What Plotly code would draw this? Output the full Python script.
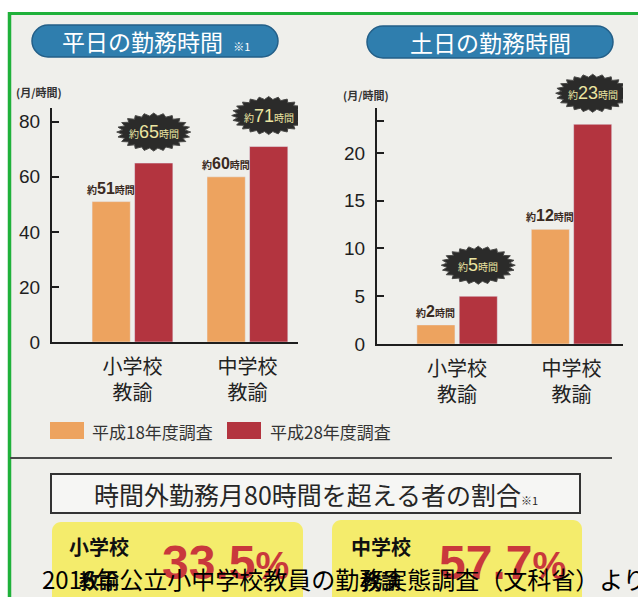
import math
import plotly.graph_objects as go

W, H = 638, 597

# ---------------- data ----------------
categories = ["小学校<br>教諭", "中学校<br>教諭"]
series_names = ["平成18年度調査", "平成28年度調査"]
weekday_h18 = [51, 60]
weekday_h28 = [65, 71]
weekend_h18 = [2, 12]
weekend_h28 = [5, 23]
weekday_ticks = [0, 20, 40, 60, 80]
weekend_ticks = [0, 5, 10, 15, 20]
over80_names = ["小学校", "中学校"]
over80_values = [33.5, 57.7]
titles = ["平日の勤務時間", "土日の勤務時間"]
unit_label = "(月/時間)"
box_title = "時間外勤務月80時間を超える者の割合"
caption = "2016年公立小中学校教員の勤務実態調査（文科省）より"

WEEKDAY_MAX = 85
WEEKEND_MAX = 24.7

ORANGE = "#eda35f"
RED = "#b3343f"
BG = "#efefeb"
CJK = "Noto Sans CJK JP"
LAT = "Liberation Sans, Noto Sans CJK JP"


def px(x):
    return x / W


def py(y):
    return 1 - y / H


def rrect_path(x0, y0, x1, y1, r):
    k = 0.5523 * r
    pts = [
        ("M", [(x0 + r, y0)]),
        ("L", [(x1 - r, y0)]),
        ("C", [(x1 - r + k, y0), (x1, y0 + r - k), (x1, y0 + r)]),
        ("L", [(x1, y1 - r)]),
        ("C", [(x1, y1 - r + k), (x1 - r + k, y1), (x1 - r, y1)]),
        ("L", [(x0 + r, y1)]),
        ("C", [(x0 + r - k, y1), (x0, y1 - r + k), (x0, y1 - r)]),
        ("L", [(x0, y0 + r)]),
        ("C", [(x0, y0 + r - k), (x0 + r - k, y0), (x0 + r, y0)]),
    ]
    s = ""
    for cmd, ps in pts:
        s += cmd + " ".join(f"{px(a):.5f},{py(b):.5f}" for a, b in ps)
    return s + "Z"


def burst_path(cy=31, rx=37, ry=19, n=24, inner=0.85):
    segs = []
    for j in range(2 * n):
        a = math.pi * j / n
        f = 1.0 if j % 2 == 0 else inner
        segs.append(f"{rx * f * math.cos(a):.2f},{cy + ry * f * math.sin(a):.2f}")
    return "M" + " L".join(segs) + " Z"


fig = go.Figure()

panels = [
    ("x", "y", weekday_h18, weekday_h28, WEEKDAY_MAX),
    ("x2", "y2", weekend_h18, weekend_h28, WEEKEND_MAX),
]
for xa, ya, old, new, _ in panels:
    fig.add_trace(go.Bar(x=[0, 1], y=old, name=series_names[0], marker_color=ORANGE,
                         xaxis=xa, yaxis=ya, showlegend=False))
    fig.add_trace(go.Bar(x=[0, 1], y=new, name=series_names[1], marker_color=RED,
                         xaxis=xa, yaxis=ya, showlegend=False))

shapes = []
annotations = []

# frame: white outside, green border
shapes.append(dict(type="rect", xref="paper", yref="paper", x0=0, x1=1, y0=py(12), y1=1,
                   fillcolor="white", line_width=0, layer="below"))
shapes.append(dict(type="rect", xref="paper", yref="paper", x0=0, x1=px(8), y0=0, y1=1,
                   fillcolor="white", line_width=0, layer="below"))
shapes.append(dict(type="line", xref="paper", yref="paper", x0=px(8), x1=1, y0=py(13.5), y1=py(13.5),
                   line=dict(color="#1fb13a", width=3)))
shapes.append(dict(type="line", xref="paper", yref="paper", x0=px(9.5), x1=px(9.5), y0=0, y1=py(12),
                   line=dict(color="#1fb13a", width=3.5)))

# title pills
pills = [(32, 25, 278, 57, 156), (367, 26, 613, 58, 490)]
for i, (x0, y0, x1, y1, cx) in enumerate(pills):
    shapes.append(dict(type="path", xref="paper", yref="paper",
                       path=rrect_path(x0, y0, x1, y1, (y1 - y0) / 2),
                       fillcolor="#2f7eae", line=dict(color="#235f88", width=1.5), layer="below"))
    txt = titles[i] + ("  <span style='font-size:11px'>※1</span>" if i == 0 else "")
    annotations.append(dict(xref="paper", yref="paper", x=px(cx), y=py((y0 + y1) / 2),
                            text=txt, showarrow=False, xanchor="center", yanchor="middle",
                            font=dict(family=CJK, size=23, color="white")))

# unit labels
for ux, uy in [(39, 92), (366, 95)]:
    annotations.append(dict(xref="paper", yref="paper", x=px(ux), y=py(uy), text="<b>" + unit_label + "</b>",
                            showarrow=False, xanchor="center", yanchor="middle",
                            font=dict(family=CJK, size=11, color="#333")))

# value labels & bursts
for xa, ya, old, new, ymax in panels:
    for i in range(2):
        annotations.append(dict(xref=xa, yref=ya, x=i - 0.185, y=old[i], yshift=3,
                                text=f"<b>約<span style='font-size:16px'>{old[i]}</span>時間</b>",
                                showarrow=False, xanchor="center", yanchor="bottom",
                                font=dict(family=LAT, size=10, color="#3a2a22")))
        shapes.append(dict(type="path", xref=xa, yref=ya + " domain", xsizemode="pixel", ysizemode="pixel",
                           xanchor=i + 0.185, yanchor=new[i] / ymax, path=burst_path(),
                           fillcolor="#2b2b2a", line=dict(color="#4a4a48", width=1)))
        annotations.append(dict(xref=xa, yref=ya, x=i + 0.185, y=new[i], yshift=31,
                                text=f"約<span style='font-size:18px'>{new[i]}</span>時間",
                                showarrow=False, xanchor="center", yanchor="middle",
                                font=dict(family=LAT, size=10, color="#ece5a2")))

# legend
for i, (sx, tx) in enumerate([(50, 90), (227, 268)]):
    shapes.append(dict(type="rect", xref="paper", yref="paper", x0=px(sx), x1=px(sx + 34),
                       y0=py(439), y1=py(422), fillcolor=[ORANGE, RED][i], line_width=0))
    annotations.append(dict(xref="paper", yref="paper", x=px(tx), y=py(431), text=series_names[i],
                            showarrow=False, xanchor="left", yanchor="middle",
                            font=dict(family=CJK, size=17, color="#333")))

# divider
shapes.append(dict(type="line", xref="paper", yref="paper", x0=px(10), x1=px(612), y0=py(458), y1=py(458),
                   line=dict(color="#4a4a4a", width=2)))

# box title
shapes.append(dict(type="rect", xref="paper", yref="paper", x0=px(51), x1=px(580), y0=py(513), y1=py(474),
                   fillcolor="#f6f6f4", line=dict(color="#333", width=2)))
annotations.append(dict(xref="paper", yref="paper", x=px(316), y=py(494),
                        text=box_title + "<span style='font-size:11px'>※1</span>",
                        showarrow=False, xanchor="center", yanchor="middle",
                        font=dict(family=CJK, size=25, color="#262626")))

# yellow boxes
ybox = [(52, 522, 303, 99, 225), (332, 520, 582, 381, 502)]
for i, (x0, y0, x1, nx, vx) in enumerate(ybox):
    shapes.append(dict(type="path", xref="paper", yref="paper",
                       path=rrect_path(x0, y0, x1, 612, 9), fillcolor="#f4ec6c", line_width=0))
    annotations.append(dict(xref="paper", yref="paper", x=px(nx), y=py(546), text="<b>" + over80_names[i] + "</b>",
                            showarrow=False, xanchor="center", yanchor="middle",
                            font=dict(family=CJK, size=20, color="#111")))
    annotations.append(dict(xref="paper", yref="paper", x=px(nx), y=py(580), text="<b>教諭</b>",
                            showarrow=False, xanchor="center", yanchor="middle",
                            font=dict(family=CJK, size=20, color="#111")))
    annotations.append(dict(xref="paper", yref="paper", x=px(vx), y=py(562),
                            text=f"<b>{over80_values[i]}<span style='font-size:38px'>%</span></b>",
                            showarrow=False, xanchor="center", yanchor="middle",
                            font=dict(family=LAT, size=48, color="#c9383c")))

# caption
annotations.append(dict(xref="paper", yref="paper", x=px(40), y=py(578), text=caption,
                        showarrow=False, xanchor="left", yanchor="middle",
                        font=dict(family=CJK, size=24, color="#000")))

axis_common = dict(showline=True, linecolor="#1e1e1e", linewidth=2, showgrid=False, zeroline=False)
xcommon = dict(axis_common, tickvals=[0, 1], ticktext=categories, ticks="",
               tickfont=dict(family=CJK, size=20, color="#222"), ticklabelstandoff=6)
ycommon = dict(axis_common, ticks="inside", ticklen=7, tickwidth=2, tickcolor="#1e1e1e",
               tickfont=dict(family="Liberation Sans", size=19, color="#1e1e1e"), ticklabelstandoff=6)

fig.update_layout(
    width=W, height=H, margin=dict(l=0, r=0, t=0, b=0, autoexpand=False),
    paper_bgcolor=BG, plot_bgcolor="rgba(0,0,0,0)",
    barmode="group", bargap=0.26, bargroupgap=0.1,
    xaxis=dict(xcommon, domain=[px(52), px(298)], range=[-0.70, 1.44], anchor="y", automargin=False),
    yaxis=dict(ycommon, domain=[py(342), py(108)], range=[0, WEEKDAY_MAX], tickvals=weekday_ticks,
               anchor="x", automargin=False),
    xaxis2=dict(xcommon, domain=[px(377), px(623)], range=[-0.70, 1.45], anchor="y2", automargin=False),
    yaxis2=dict(ycommon, domain=[py(344), py(108)], range=[0, WEEKEND_MAX],
                tickvals=weekend_ticks + [23.3], ticktext=[str(t) for t in weekend_ticks] + [""],
                anchor="x2", automargin=False),
    shapes=shapes, annotations=annotations, showlegend=False,
)

fig.write_html("out.html", config={"displayModeBar": False},
               post_script="document.body.style.margin='0px';document.body.style.padding='0px';")
